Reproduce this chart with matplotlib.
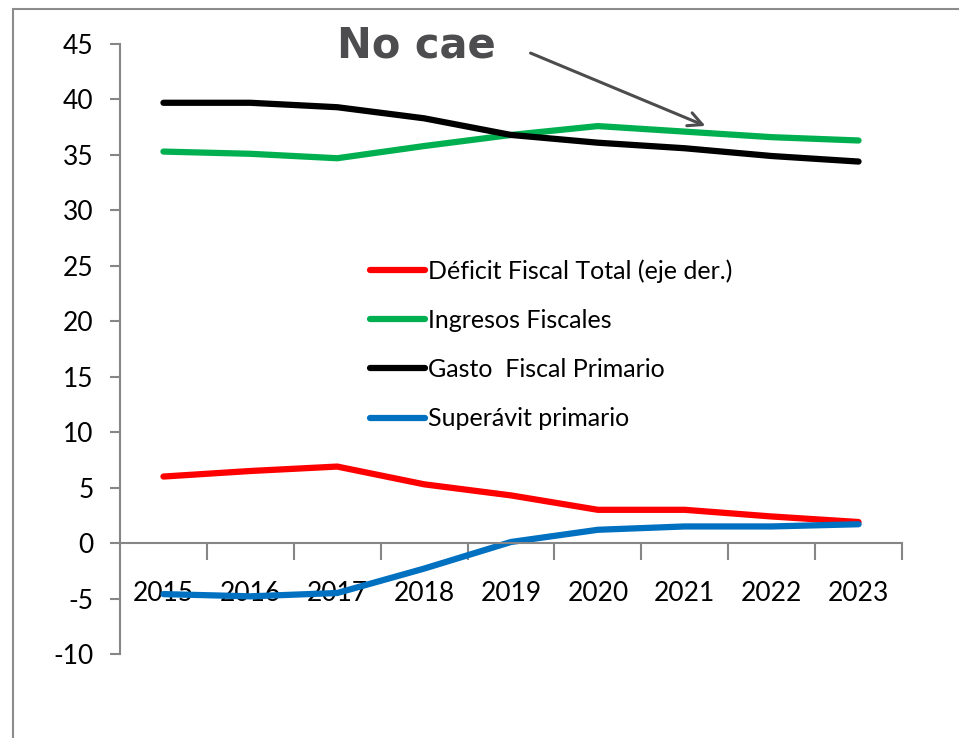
import matplotlib.pyplot as plt
from matplotlib.patches import Rectangle

years = ["2015", "2016", "2017", "2018", "2019", "2020", "2021", "2022", "2023"]
deficit = [6.0, 6.5, 6.9, 5.3, 4.3, 3.0, 3.0, 2.4, 1.9]
ingresos = [35.3, 35.1, 34.7, 35.8, 36.8, 37.6, 37.1, 36.6, 36.3]
gasto = [39.7, 39.7, 39.3, 38.3, 36.8, 36.1, 35.6, 34.9, 34.4]
superavit = [-4.6, -4.8, -4.5, -2.3, 0.1, 1.2, 1.5, 1.5, 1.7]

plt.rcParams['font.family'] = ['Lato', 'DejaVu Sans']
plt.rcParams['axes.unicode_minus'] = False
grey = '#868686'

fig = plt.figure(figsize=(9.59, 7.38), dpi=100)
# marco exterior
fig.patches.append(Rectangle((13/959, -0.1), 1.1, 1 - 9/738 + 0.1, transform=fig.transFigure,
                             fill=False, edgecolor='#8c8c8c', lw=1.5))
ax = fig.add_axes([120/959, 1 - 654/738, 782/959, 610/738])

x = list(range(len(years)))
l_ing, = ax.plot(x, ingresos, color='#00B050', lw=4.5, solid_capstyle='round', label='Ingresos Fiscales')
l_gas, = ax.plot(x, gasto, color='black', lw=4.5, solid_capstyle='round', label='Gasto  Fiscal Primario')
l_def, = ax.plot(x, deficit, color='#FF0000', lw=4.5, solid_capstyle='round', label='Déficit Fiscal Total (eje der.)')
l_sup, = ax.plot(x, superavit, color='#0070C0', lw=4.5, solid_capstyle='round', label='Superávit primario')

ax.set_xlim(-0.5, len(years) - 0.5)
ax.set_ylim(-10, 45)
ax.set_yticks(range(-10, 50, 5))

for s in ['top', 'right']:
    ax.spines[s].set_visible(False)
ax.spines['left'].set_color(grey)
ax.spines['bottom'].set_color(grey)
ax.spines['left'].set_linewidth(1.5)
ax.spines['bottom'].set_linewidth(1.5)
ax.spines['bottom'].set_position(('data', 0))

ax.set_xticks(x)
ax.set_xticklabels(years)
ax.set_xticks([i + 0.5 for i in x], minor=True)
ax.tick_params(axis='x', which='major', length=0, pad=27, labelsize=19)
ax.tick_params(axis='x', which='minor', length=12, width=1.5, color=grey, direction='out')
ax.tick_params(axis='y', length=7, width=1.5, color=grey, labelsize=19, pad=12)

leg = ax.legend(handles=[l_def, l_ing, l_gas, l_sup], loc='upper left',
                bbox_to_anchor=(0.32, 0.6475), frameon=False, fontsize=18,
                borderpad=0, borderaxespad=0,
                handlelength=2.2, handletextpad=0.12, labelspacing=1.05)

fig.text(337/959, 1 - 57/738, 'No cae', fontsize=30, fontweight='bold',
         color='#4d4d4f', family='DejaVu Sans', va='baseline', ha='left')
ax.annotate('', xy=(708/959, 1 - 127/738), xytext=(528/959, 1 - 52/738),
            xycoords='figure fraction', textcoords='figure fraction',
            arrowprops=dict(arrowstyle='->', color='#4d4d4f', lw=2.2, mutation_scale=25))

fig.savefig('out.png', dpi=100)
